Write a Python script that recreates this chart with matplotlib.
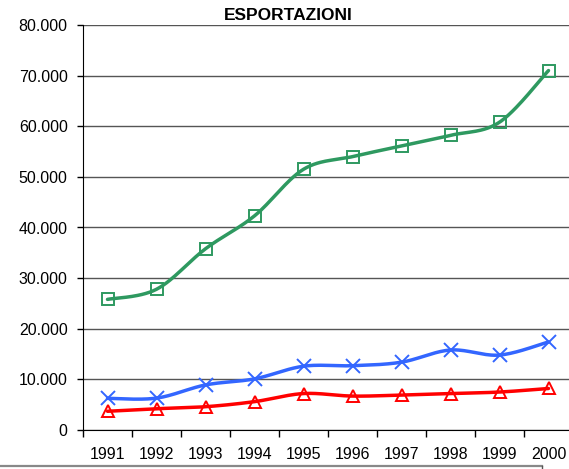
import numpy as np
import matplotlib
matplotlib.use("Agg")
import matplotlib.pyplot as plt
from matplotlib.lines import Line2D
from matplotlib.ticker import FuncFormatter

plt.rcParams['font.family'] = ['Liberation Sans', 'DejaVu Sans']

years = ["1991", "1992", "1993", "1994", "1995", "1996", "1997", "1998", "1999", "2000"]
green = [25800, 27800, 35800, 42300, 51500, 54000, 56100, 58200, 60800, 71000]
blue = [6250, 6300, 8900, 10100, 12600, 12700, 13400, 15800, 14800, 17400]
red = [3700, 4200, 4600, 5600, 7200, 6700, 6900, 7200, 7500, 8200]


def smooth(xs, ys, n=30):
    # excel-like smoothing: bezier through points, tangent (p[i+1]-p[i-1])/6
    xs = np.asarray(xs, float)
    ys = np.asarray(ys, float)
    px = np.concatenate([[xs[0]], xs, [xs[-1]]])
    py = np.concatenate([[ys[0]], ys, [ys[-1]]])
    outx, outy = [], []
    t = np.linspace(0, 1, n)
    for i in range(1, len(px) - 2):
        p0 = np.array([px[i], py[i]])
        p3 = np.array([px[i + 1], py[i + 1]])
        c1 = p0 + (p3 - np.array([px[i - 1], py[i - 1]])) / 6
        c2 = p3 - (np.array([px[i + 2], py[i + 2]]) - p0) / 6
        for tt in t:
            pt = ((1 - tt) ** 3) * p0 + 3 * ((1 - tt) ** 2) * tt * c1 + 3 * (1 - tt) * tt ** 2 * c2 + tt ** 3 * p3
            outx.append(pt[0])
            outy.append(pt[1])
    return outx, outy


fig = plt.figure(figsize=(5.69, 4.69), dpi=100)
ax = fig.add_axes([83 / 569, 39 / 469, 490 / 569, 405 / 469])

x = np.arange(len(years))
series = [
    (green, "#2E9960", "s", 9, 1.4),
    (blue, "#3366FF", "x", 10, 1.4),
    (red, "#FF0000", "^", 9, 1.4),
]
for vals, col, mk, ms, mew in series:
    sx, sy = smooth(x, vals)
    ax.plot(sx, sy, color=col, lw=2.5, solid_capstyle="round", zorder=3)
    ax.plot(x, vals, ls="none", marker=mk, ms=ms, mew=mew, mfc="none", mec=col, zorder=4)

ax.set_xlim(-0.5, 9.5)
ax.set_ylim(0, 80000)
ax.set_yticks(range(0, 80001, 10000))
ax.yaxis.set_major_formatter(FuncFormatter(lambda v, p: "{:,.0f}".format(v).replace(",", ".")))
ax.set_xticks(np.arange(-0.5, 9.6, 1))
ax.set_xticklabels([])
ax.set_xticks(x, minor=True)
ax.set_xticklabels(years, minor=True)
ax.tick_params(axis="x", which="minor", length=0, pad=12.5, labelsize=11.5)
ax.tick_params(axis="x", which="major", length=5, direction="out", width=1)
ax.tick_params(axis="y", length=4, width=1, labelsize=11.5, pad=7)

ax.grid(axis="y", color="#555555", lw=1)
ax.set_axisbelow(True)
for s in ["top", "right"]:
    ax.spines[s].set_visible(False)
ax.spines["left"].set_color("black")
ax.spines["bottom"].set_color("black")

fig.text(288 / 569, 1 - 16 / 469, "ESPORTAZIONI", ha="center", va="center",
         fontsize=12.5, fontweight="bold")

# top edge of the cut-off legend box
fig.add_artist(Line2D([0, 542 / 569], [3 / 469, 3 / 469], color="#888888", lw=1.6))
fig.add_artist(Line2D([542 / 569, 542 / 569], [0, 3 / 469], color="#555555", lw=1))

fig.savefig("out.png", dpi=100)
